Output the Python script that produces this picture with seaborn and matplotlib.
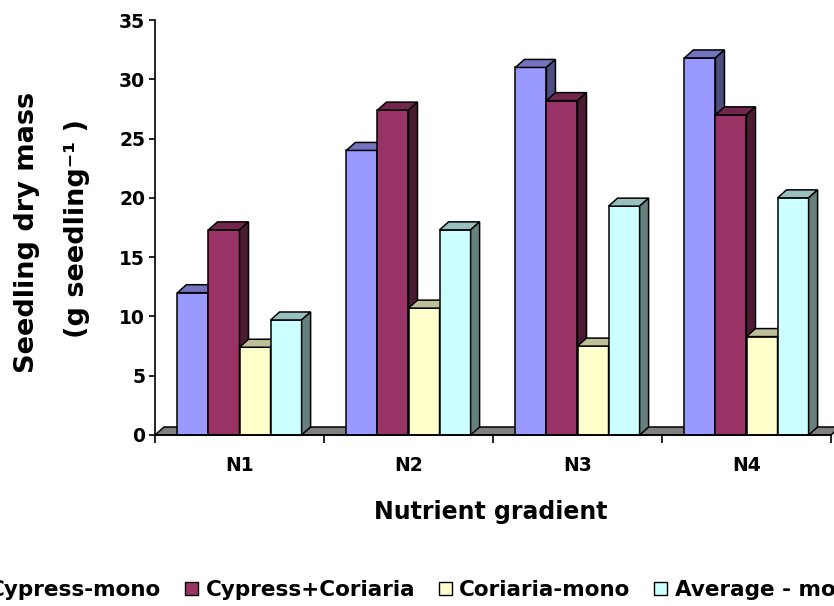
import numpy as np
import pandas as pd
import matplotlib
matplotlib.use("Agg")
import matplotlib.pyplot as plt
from matplotlib.patches import Polygon, Patch
import seaborn as sns

# ---- data ----
categories = ["N1", "N2", "N3", "N4"]
series_names = ["Cypress-mono", "Cypress+Coriaria", "Coriaria-mono", "Average - mono"]
cypress_mono = [12.0, 24.0, 31.0, 31.8]
cypress_coriaria = [17.3, 27.4, 28.2, 27.0]
coriaria_mono = [7.4, 10.7, 7.5, 8.3]
average_mono = [9.7, 17.3, 19.3, 20.0]

front_colors = ["#9999FF", "#993366", "#FFFFCC", "#CCFFFF"]

df = pd.DataFrame({
    "category": categories * 4,
    "series": np.repeat(series_names, len(categories)),
    "value": cypress_mono + cypress_coriaria + coriaria_mono + average_mono,
})

sns.set_theme(style="ticks")
plt.rcParams["font.family"] = ["DejaVu Sans"]
plt.rcParams["font.weight"] = "bold"
plt.rcParams["text.color"] = "black"
plt.rcParams["axes.labelcolor"] = "black"
plt.rcParams["xtick.color"] = "black"
plt.rcParams["ytick.color"] = "black"

W, H = 834, 606
fig = plt.figure(figsize=(W / 100, H / 100), dpi=100)
fig.patch.set_facecolor("white")

# plot area in pixels: x 155..831, y 20..435
ax = fig.add_axes([155 / W, 1 - 435 / H, (831 - 155) / W, (435 - 20) / H])
ax.set_facecolor("white")

sns.barplot(data=df, x="category", y="value", hue="series",
            hue_order=series_names, order=categories,
            palette=dict(zip(series_names, front_colors)), saturation=1,
            width=0.735, edgecolor="black", linewidth=1.1,
            legend=False, ax=ax, zorder=3)

ax.set_xlim(-0.5, 3.5)
ax.set_ylim(0, 35)

# depth of the pseudo-3D extrusion (9 px right, 8 px up)
dx = 9 / 676 * 4
dy = 8 / 415 * 35


def shade(hex_color, f):
    r, g, b = matplotlib.colors.to_rgb(hex_color)
    return (r * f, g * f, b * f)


# floor slab under the bars
floor = Polygon([(-0.5, 0), (3.5, 0), (3.5 + dx, dy), (-0.5 + dx, dy)],
                closed=True, facecolor="#808080", edgecolor="black",
                linewidth=1.1, clip_on=False, zorder=1)
ax.add_patch(floor)

# collect bars with their series color
bars = []
for cont, col in zip(ax.containers, front_colors):
    for rect in cont:
        bars.append((rect.get_x(), rect, col))
bars.sort(key=lambda t: t[0])

for i, (x0, rect, col) in enumerate(bars):
    w = rect.get_width()
    h = rect.get_height()
    z = 3 + i * 0.01
    rect.set_zorder(z)
    rect.set_clip_on(False)
    top = Polygon([(x0, h), (x0 + w, h), (x0 + w + dx, h + dy), (x0 + dx, h + dy)],
                  closed=True, facecolor=shade(col, 0.75), edgecolor="black",
                  linewidth=1.1, clip_on=False, zorder=z + 0.001)
    side = Polygon([(x0 + w, 0), (x0 + w + dx, dy), (x0 + w + dx, h + dy), (x0 + w, h)],
                   closed=True, facecolor=shade(col, 0.5), edgecolor="black",
                   linewidth=1.1, clip_on=False, zorder=z + 0.001)
    ax.add_patch(top)
    ax.add_patch(side)

# axes styling
for s in ["top", "right"]:
    ax.spines[s].set_visible(False)
for s in ["left", "bottom"]:
    ax.spines[s].set_linewidth(1.2)
    ax.spines[s].set_color("black")
ax.spines["bottom"].set_zorder(10)

ax.set_yticks(np.arange(0, 36, 5))
ax.tick_params(axis="y", direction="out", length=4, width=1.2, pad=3,
               labelsize=13.5, colors="black")
ax.set_xticks(range(len(categories)))
ax.set_xticklabels(categories)
ax.tick_params(axis="x", which="major", length=0, pad=15, labelsize=13.5,
               colors="black")
ax.set_xticks(np.arange(-0.5, 4.0, 1.0), minor=True)
ax.tick_params(axis="x", which="minor", direction="out", length=6, width=1.2,
               colors="black")
for lab in ax.get_xticklabels() + ax.get_yticklabels():
    lab.set_fontweight("bold")

ax.set_xlabel("Nutrient gradient", fontsize=17, fontweight="bold", va="center",
              color="black")
ax.xaxis.set_label_coords(0.497, -(512 - 435) / 415)
ax.set_ylabel("")

# two-line y axis title
fig.text(27 / W, 1 - 232 / H, "Seedling dry mass", rotation=90,
         ha="center", va="center", fontsize=19.5, fontweight="bold", color="black")
fig.text(77 / W, 1 - 229 / H, "(g seedling\u207b\u00b9 )", rotation=90,
         ha="center", va="center", fontsize=19.5, fontweight="bold", color="black")

handles = [Patch(facecolor=c, edgecolor="black", linewidth=1.0) for c in front_colors]
fig.legend(handles, series_names, loc="center left",
           bbox_to_anchor=(-42 / W, 1 - 590 / H), ncol=4, frameon=False,
           borderpad=0, handlelength=0.6, handleheight=0.6, handletextpad=0.35,
           columnspacing=1.1, prop={"size": 15.5, "weight": "bold"},
           labelcolor="black")

fig.savefig("out.png", dpi=100, facecolor="white")
